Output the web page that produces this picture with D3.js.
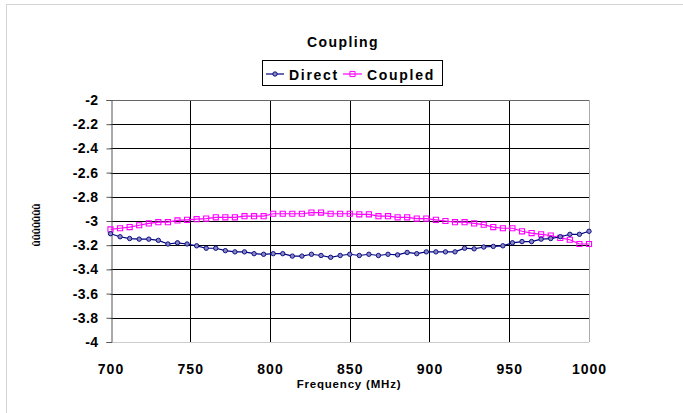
<!DOCTYPE html>
<html><head><meta charset="utf-8">
<script src="https://cdn.jsdelivr.net/npm/d3@7"></script>
<style>body{margin:0;background:#fff;} svg{display:block;font-family:"Liberation Sans",Arial,sans-serif;}</style>
</head><body>
<svg id="c" width="683" height="413"></svg>
<script>
const title = "Coupling";
const xTitle = "Frequency (MHz)";
const yTitle = "ûûûûûûû";
const seriesNames = ["Direct", "Coupled"];
const startFreq = 700, stepFreq = 6;
const direct = [-3.105,-3.13,-3.145,-3.15,-3.15,-3.16,-3.19,-3.18,-3.19,-3.205,
 -3.225,-3.225,-3.245,-3.255,-3.255,-3.27,-3.275,-3.27,-3.27,-3.29,
 -3.29,-3.275,-3.285,-3.30,-3.285,-3.275,-3.285,-3.275,-3.285,-3.275,
 -3.28,-3.26,-3.27,-3.255,-3.255,-3.255,-3.255,-3.225,-3.23,-3.215,
 -3.21,-3.205,-3.18,-3.17,-3.17,-3.15,-3.145,-3.13,-3.11,-3.11,-3.085];
const coupled = [-3.07,-3.06,-3.05,-3.035,-3.02,-3.01,-3.01,-2.995,-2.99,-2.985,
 -2.98,-2.97,-2.97,-2.97,-2.96,-2.96,-2.96,-2.94,-2.94,-2.94,
 -2.94,-2.93,-2.93,-2.94,-2.94,-2.94,-2.945,-2.945,-2.96,-2.96,
 -2.97,-2.97,-2.98,-2.98,-2.99,-3.00,-3.01,-3.01,-3.02,-3.03,
 -3.05,-3.06,-3.06,-3.085,-3.10,-3.11,-3.12,-3.14,-3.155,-3.19,-3.19];
const xTicks = [700,750,800,850,900,950,1000];
const yTicks = [-2,-2.2,-2.4,-2.6,-2.8,-3,-3.2,-3.4,-3.6,-3.8,-4];
const freqs = direct.map((_, i) => startFreq + i * stepFreq);

const svg = d3.select("#c");
svg.append("rect").attr("x",6.5).attr("y",4.5).attr("width",700).attr("height",500)
  .attr("fill","#fff").attr("stroke","#d4d4d4");

const L = 110.5, R = 589, T = 100, B = 342;
const x = d3.scaleLinear().domain([700,1000]).range([L,R]);
const y = d3.scaleLinear().domain([-4,-2]).range([B,T]);

const g = svg.append("g");
g.selectAll("line.h").data(yTicks.filter(v => v > -4 && v < -2)).join("line")
  .attr("x1",L).attr("x2",R).attr("y1",d=>Math.round(y(d))+0.5).attr("y2",d=>Math.round(y(d))+0.5)
  .attr("stroke","#000").attr("stroke-width",1);
g.selectAll("line.v").data(xTicks.filter(v => v > 700 && v < 1000)).join("line")
  .attr("y1",T).attr("y2",B).attr("x1",d=>Math.round(x(d))+0.5).attr("x2",d=>Math.round(x(d))+0.5)
  .attr("stroke","#000").attr("stroke-width",1);
g.append("line").attr("x1",L).attr("x2",R).attr("y1",T+0.5).attr("y2",T+0.5).attr("stroke","#666");
g.append("line").attr("x1",R+0.5).attr("x2",R+0.5).attr("y1",T).attr("y2",B).attr("stroke","#aaa");
g.append("line").attr("x1",L).attr("x2",R).attr("y1",B+0.5).attr("y2",B+0.5).attr("stroke","#ccc");

const yAxis = svg.append("g").attr("transform",`translate(${Math.round(L)+0.5},0)`)
  .call(d3.axisLeft(y).tickValues(yTicks).tickSize(5).tickFormat(d=>String(+d.toFixed(1))));
yAxis.select(".domain").attr("stroke","#555");
yAxis.selectAll(".tick line").attr("stroke","#555");
yAxis.selectAll("text").attr("font-size","14px").attr("font-weight","bold").attr("fill","#000")
  .attr("font-family","'Liberation Sans',Arial,sans-serif").attr("letter-spacing","0.4px").attr("x",-13);

const xAxis = svg.append("g").attr("transform",`translate(0,${B})`)
  .call(d3.axisBottom(x).tickValues(xTicks).tickSize(0).tickFormat(d3.format("d")));
xAxis.select(".domain").remove();
xAxis.selectAll("text").attr("font-size","14px").attr("font-weight","bold").attr("fill","#000")
  .attr("font-family","'Liberation Sans',Arial,sans-serif").attr("letter-spacing","1px").attr("y",22);

svg.append("text").attr("x",343).attr("y",47).attr("text-anchor","middle")
  .attr("font-size","14px").attr("font-weight","bold").attr("letter-spacing","1.4px").text(title);
svg.append("text").attr("x",349).attr("y",388).attr("text-anchor","middle")
  .attr("font-size","11.5px").attr("font-weight","bold").attr("letter-spacing","0.8px").text(xTitle);
svg.append("text").attr("transform","translate(40,225) rotate(-90)").attr("text-anchor","middle")
  .attr("font-size","10px").attr("font-weight","bold").text(yTitle);

const line = d3.line().x((d,i)=>x(freqs[i])).y(d=>y(d));
const square = d3.symbol().type(d3.symbolSquare).size(26);

svg.append("path").datum(coupled).attr("d",line).attr("fill","none").attr("stroke","#ff00ff").attr("stroke-width",1.2);
svg.selectAll("path.cm").data(coupled).join("path").attr("class","cm")
  .attr("transform",(d,i)=>`translate(${x(freqs[i])},${y(d)})`).attr("d",square)
  .attr("fill","none").attr("stroke","#ff00ff").attr("stroke-width",1.1);

svg.append("path").datum(direct).attr("d",line).attr("fill","none").attr("stroke","#000080").attr("stroke-width",1.2);
svg.selectAll("circle.dm").data(direct).join("circle").attr("class","dm")
  .attr("cx",(d,i)=>x(freqs[i])).attr("cy",d=>y(d)).attr("r",2.2)
  .attr("fill","#8888c0").attr("stroke","#000080").attr("stroke-width",0.9);

const lg = svg.append("g");
lg.append("rect").attr("x",262.5).attr("y",60.5).attr("width",180).attr("height",25)
  .attr("fill","#fff").attr("stroke","#000");
lg.append("line").attr("x1",266).attr("x2",284).attr("y1",74).attr("y2",74).attr("stroke","#000080").attr("stroke-width",1.2);
lg.append("circle").attr("cx",275).attr("cy",74).attr("r",2.2).attr("fill","#8888c0").attr("stroke","#000080").attr("stroke-width",0.9);
lg.append("text").attr("x",289).attr("y",80).attr("font-size","14px").attr("font-weight","bold").attr("letter-spacing","1.7px").text(seriesNames[0]);
lg.append("line").attr("x1",343).attr("x2",362).attr("y1",74).attr("y2",74).attr("stroke","#ff00ff").attr("stroke-width",1.2);
lg.append("path").attr("transform","translate(352.5,74)").attr("d",square).attr("fill","none").attr("stroke","#ff00ff");
lg.append("text").attr("x",367).attr("y",80).attr("font-size","14px").attr("font-weight","bold").attr("letter-spacing","1.7px").text(seriesNames[1]);
</script>
</body></html>
